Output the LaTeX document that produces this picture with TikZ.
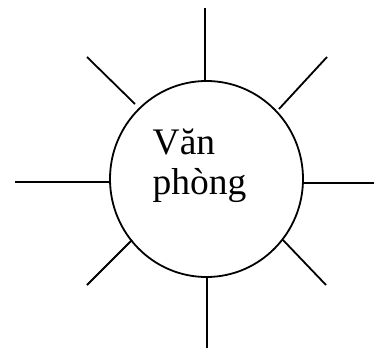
\documentclass[tikz,border=0pt]{standalone}
\usepackage{fontspec}
\setmainfont{Liberation Serif}
\usetikzlibrary{shapes.geometric}
\begin{document}
\begin{tikzpicture}[x=1pt,y=-1pt,
  ray/.style={line width=1.8pt,line cap=butt},
  lbl/.style={anchor=base west,inner sep=0pt,font=\fontsize{37.5}{40}\selectfont}]
\useasboundingbox (0,0) rectangle (377,348);
\node[draw,line width=1.8pt,ellipse,minimum width=193pt,minimum height=196pt,inner sep=0pt] (c) at (206.5,179) {};
\node[lbl] (t1) at (152.5,154) {Văn};
\node[lbl] (t2) at (152.5,194) {phòng};
% rays
\coordinate (nO) at (205,8);   \coordinate (nI) at (205,81);
\coordinate (sO) at (207,348); \coordinate (sI) at (207,277);
\coordinate (wO) at (15,182);  \coordinate (wI) at (110,182);
\coordinate (eO) at (374,183); \coordinate (eI) at (303,183);
\coordinate (nwO) at (87,57);  \coordinate (nwI) at (135,104);
\coordinate (neO) at (327,57); \coordinate (neI) at (279,109);
\coordinate (swO) at (87,285); \coordinate (swI) at (132,240);
\coordinate (seO) at (326,285);\coordinate (seI) at (283,240);
\foreach \d in {n,s,w,e,nw,ne,sw,se} \draw[ray] (\d O) -- (\d I);
\end{tikzpicture}
\end{document}
